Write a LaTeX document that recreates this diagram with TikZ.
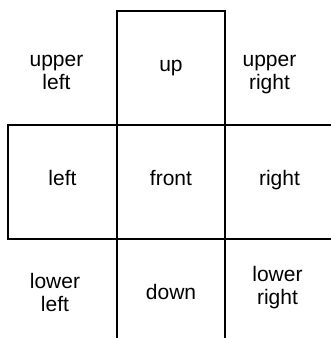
\documentclass[tikz,border=0pt]{standalone}
\usepackage{fontspec}
\setmainfont{Liberation Sans}
\usetikzlibrary{positioning}

\tikzset{
  face/.style={draw, line width=1.6pt, minimum width=108.5pt, minimum height=114pt,
    inner sep=0pt, outer sep=0pt, text height=15pt, text depth=8pt},
  corner/.style={align=center, inner sep=0pt},
}

\begin{document}
\begin{tikzpicture}[x=1pt, y=1pt, font=\fontsize{21}{23}\selectfont]
\useasboundingbox (0,0) rectangle (331,338);

% the cross of faces
\node[face] (front) at (171,156) {front};
\node[face, left=0pt of front] (left) {left};
\node[face, right=0pt of front] (right) {right};
\node[face, above=0pt of front] (up) {up};
\node[face, draw=none, below=0pt of front] (down) {down};
\draw[line width=1.6pt] (down.north west) -- (down.south west)
                        (down.north east) -- (down.south east);

% corners
\node[corner] (upleft) at (56.5,265.3) {upper\\left};
\node[corner] (upright) at (269.5,263.2) {upper\\right};
\node[corner] (lowleft) at (55,46) {lower\\left};
\node[corner] (lowright) at (277.5,50.1) {lower\\right};
\end{tikzpicture}
\end{document}
